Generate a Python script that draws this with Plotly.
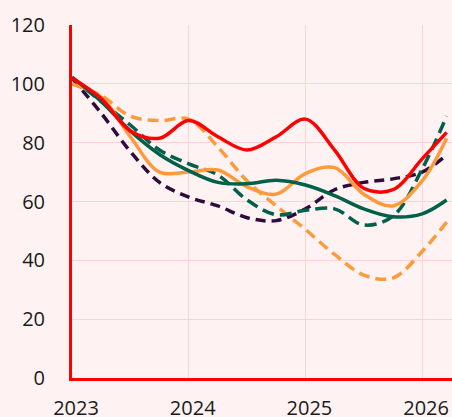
import plotly.graph_objects as go

x_dates = [2023.0, 2023.25, 2023.5, 2023.75, 2024.0, 2024.25, 2024.5, 2024.75,
           2025.0, 2025.25, 2025.5, 2025.75, 2026.0, 2026.21]

red_solid = [102, 95, 84, 81.5, 87.5, 82, 77.5, 82, 88, 77.5, 64.5, 64, 74.5, 83.5]
orange_solid = [100, 95.5, 82, 70, 70, 70.7, 65, 62.5, 69.5, 71.5, 62.5, 58.5, 67, 81.5]
orange_dashed = [100, 96, 89, 87.5, 88, 78.5, 67, 58.5, 50.5, 42, 35, 34, 43, 53]
green_solid = [102.3, 94, 84, 76, 70.5, 66.5, 66, 67.2, 65.6, 62, 57.5, 54.8, 55.8, 60.5]
green_dashed = [102, 94, 86, 77.5, 72.8, 69, 60.5, 55.5, 57, 57.5, 52, 55, 71, 89]
purple_dashed = [102, 90, 77, 66.5, 61.5, 58.5, 54.5, 53.5, 57.5, 64, 66.5, 67.7, 70, 75.8]

tick_vals = [2023, 2024, 2025, 2026]
tick_text = ["2023", "2024", "2025", "2026"]
y_ticks = [0, 20, 40, 60, 80, 100, 120]

series = [
    ("Orange dashed", orange_dashed, "#ff9a3c", "11px,6px", 3.5),
    ("Purple dashed", purple_dashed, "#2e0b3c", "10px,6px", 3.5),
    ("Green dashed", green_dashed, "#00604a", "12px,6px", 3.5),
    ("Orange", orange_solid, "#ff9a3c", "solid", 3.5),
    ("Green", green_solid, "#00604a", "solid", 3.5),
    ("Red", red_solid, "#ff0000", "solid", 3.5),
]

fig = go.Figure()
for name, vals, color, dash, w in series:
    fig.add_trace(go.Scatter(
        x=x_dates, y=vals, mode="lines", name=name,
        line=dict(color=color, width=w, dash=dash, shape="spline", smoothing=1.0),
    ))

bg = "#fef3f2"
grid = "#fcd2d2"
fig.update_layout(
    width=452, height=417,
    margin=dict(l=72, r=0, t=25, b=39),
    paper_bgcolor=bg, plot_bgcolor=bg,
    showlegend=False,
    font=dict(family="Open Sans", size=20, color="#1a1a1a"),
)
fig.update_xaxes(
    range=[2023, 2026.256], tickvals=tick_vals, ticktext=tick_text,
    showgrid=True, gridcolor=grid, gridwidth=1,
    showline=True, linecolor="#ff0000", linewidth=3,
    zeroline=False, ticks="", ticklabelstandoff=10, ticklabelshift=4,
    automargin=False,
)
fig.update_yaxes(
    range=[0, 120], tickvals=y_ticks,
    showgrid=True, gridcolor=grid, gridwidth=1,
    showline=True, linecolor="#ff0000", linewidth=3,
    zeroline=False, ticks="", ticklabelstandoff=20,
    automargin=False,
)
fig.write_html(
    "out.html",
    config={"displayModeBar": False},
    post_script="document.body.style.margin='0';document.body.style.background='%s';" % bg,
)
